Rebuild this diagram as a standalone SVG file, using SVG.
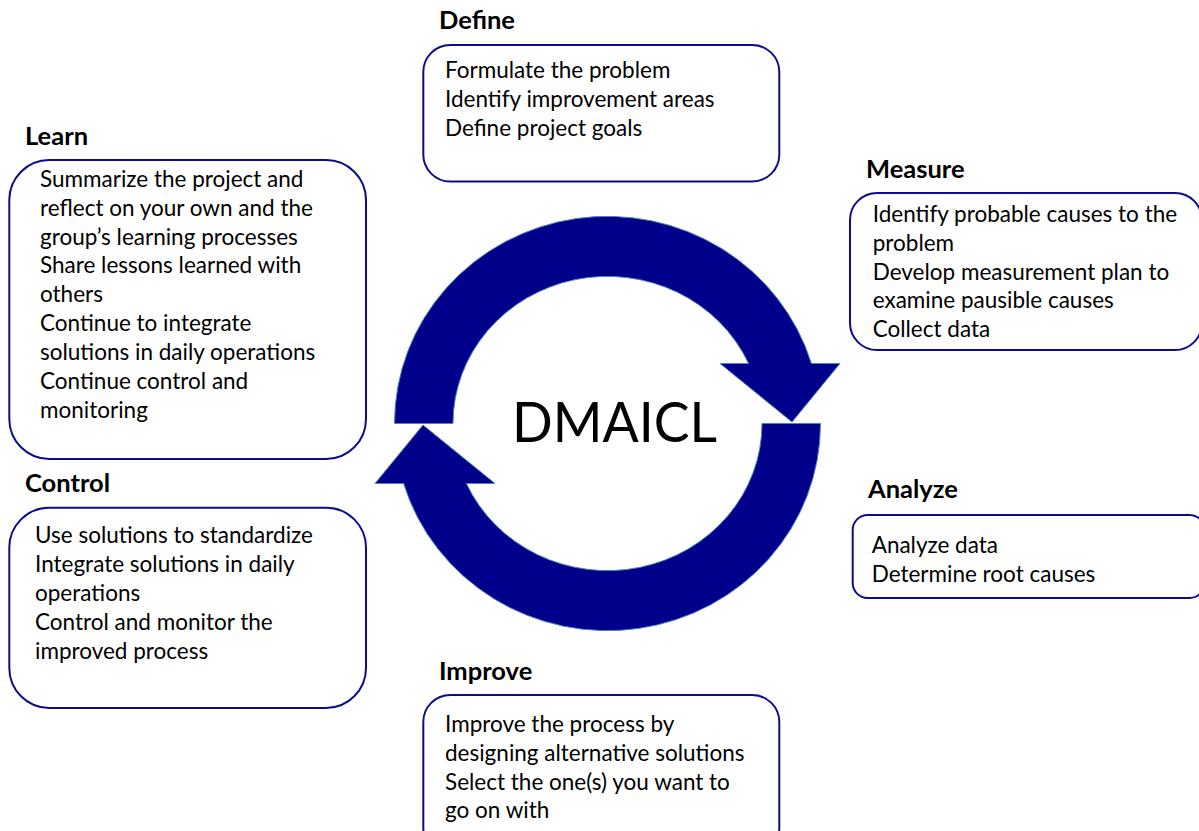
<svg xmlns="http://www.w3.org/2000/svg" width="1199" height="831" viewBox="0 0 1199 831">
<style>
.box{fill:#fff;stroke:#0c0c8c;stroke-width:2}
.t{font-family:Lato,"Liberation Sans",sans-serif;font-size:22.5px;fill:#000}
.h{font-family:Lato,"Liberation Sans",sans-serif;font-size:25.5px;font-weight:bold;fill:#000}
.arr{fill:#00008b;stroke:#4f81bd;stroke-width:1}
</style>
<rect width="1199" height="831" fill="#fff"/>
<g id="connectors">
<path class="arr" d="M394.5,423.5 A213,207 0 0 1 811.4,363.5 L840,363.5 L792,422 L720,363.5 L748.6,363.5 A154.5,147 0 0 0 453,423.5 Z"/>
<path class="arr" d="M820.5,423.5 A213,207 0 0 1 403.6,483.5 L375,483.5 L423,425 L495,483.5 L466.4,483.5 A154.5,147 0 0 0 762,423.5 Z"/>
</g>
<g id="center">
<text x="512" y="442" font-family="Lato,'Liberation Sans',sans-serif" font-size="56" textLength="205" lengthAdjust="spacingAndGlyphs">DMAICL</text>
</g>
<g id="define">
<text class="h" x="439" y="29">Define</text>
<rect class="box" x="423.3" y="45" width="356" height="136.5" rx="27"/>
<text class="t" x="445" y="78">Formulate the problem</text>
<text class="t" x="445" y="106.9">Identify improvement areas</text>
<text class="t" x="445" y="135.8">Define project goals</text>
</g>
<g id="measure">
<text class="h" x="866" y="178">Measure</text>
<rect class="box" x="850" y="193" width="352" height="157" rx="27"/>
<text class="t" x="872.7" y="221.7">Identify probable causes to the</text>
<text class="t" x="872.7" y="250.6">problem</text>
<text class="t" x="872.7" y="279.5">Develop measurement plan to</text>
<text class="t" x="872.7" y="308.4">examine pausible causes</text>
<text class="t" x="872.7" y="337.3">Collect data</text>
</g>
<g id="analyze">
<text class="h" x="868" y="498">Analyze</text>
<rect class="box" x="852.7" y="515" width="352" height="83" rx="15"/>
<text class="t" x="871.7" y="552.7">Analyze data</text>
<text class="t" x="871.7" y="581.6">Determine root causes</text>
</g>
<g id="improve">
<text class="h" x="439" y="680">Improve</text>
<rect class="box" x="423.3" y="695" width="356" height="160" rx="27"/>
<text class="t" x="445" y="731.7">Improve the process by</text>
<text class="t" x="445" y="760.6">designing alternative solutions</text>
<text class="t" x="445" y="789.5">Select the one(s) you want to</text>
<text class="t" x="445" y="818.4">go on with</text>
</g>
<g id="control">
<text class="h" x="25" y="492">Control</text>
<rect class="box" x="9.3" y="507.7" width="356.7" height="200.3" rx="40"/>
<text class="t" x="35" y="543.3">Use solutions to standardize</text>
<text class="t" x="35" y="572.2">Integrate solutions in daily</text>
<text class="t" x="35" y="601.1">operations</text>
<text class="t" x="35" y="630">Control and monitor the</text>
<text class="t" x="35" y="658.9">improved process</text>
</g>
<g id="learn">
<text class="h" x="25" y="145">Learn</text>
<rect class="box" x="9.3" y="160" width="356.7" height="299" rx="40"/>
<text class="t" x="40" y="186.7">Summarize the project and</text>
<text class="t" x="40" y="215.6">reflect on your own and the</text>
<text class="t" x="40" y="244.5">group’s learning processes</text>
<text class="t" x="40" y="273.4">Share lessons learned with</text>
<text class="t" x="40" y="302.3">others</text>
<text class="t" x="40" y="331.2">Continue to integrate</text>
<text class="t" x="40" y="360.1">solutions in daily operations</text>
<text class="t" x="40" y="389">Continue control and</text>
<text class="t" x="40" y="417.9">monitoring</text>
</g>
</svg>
